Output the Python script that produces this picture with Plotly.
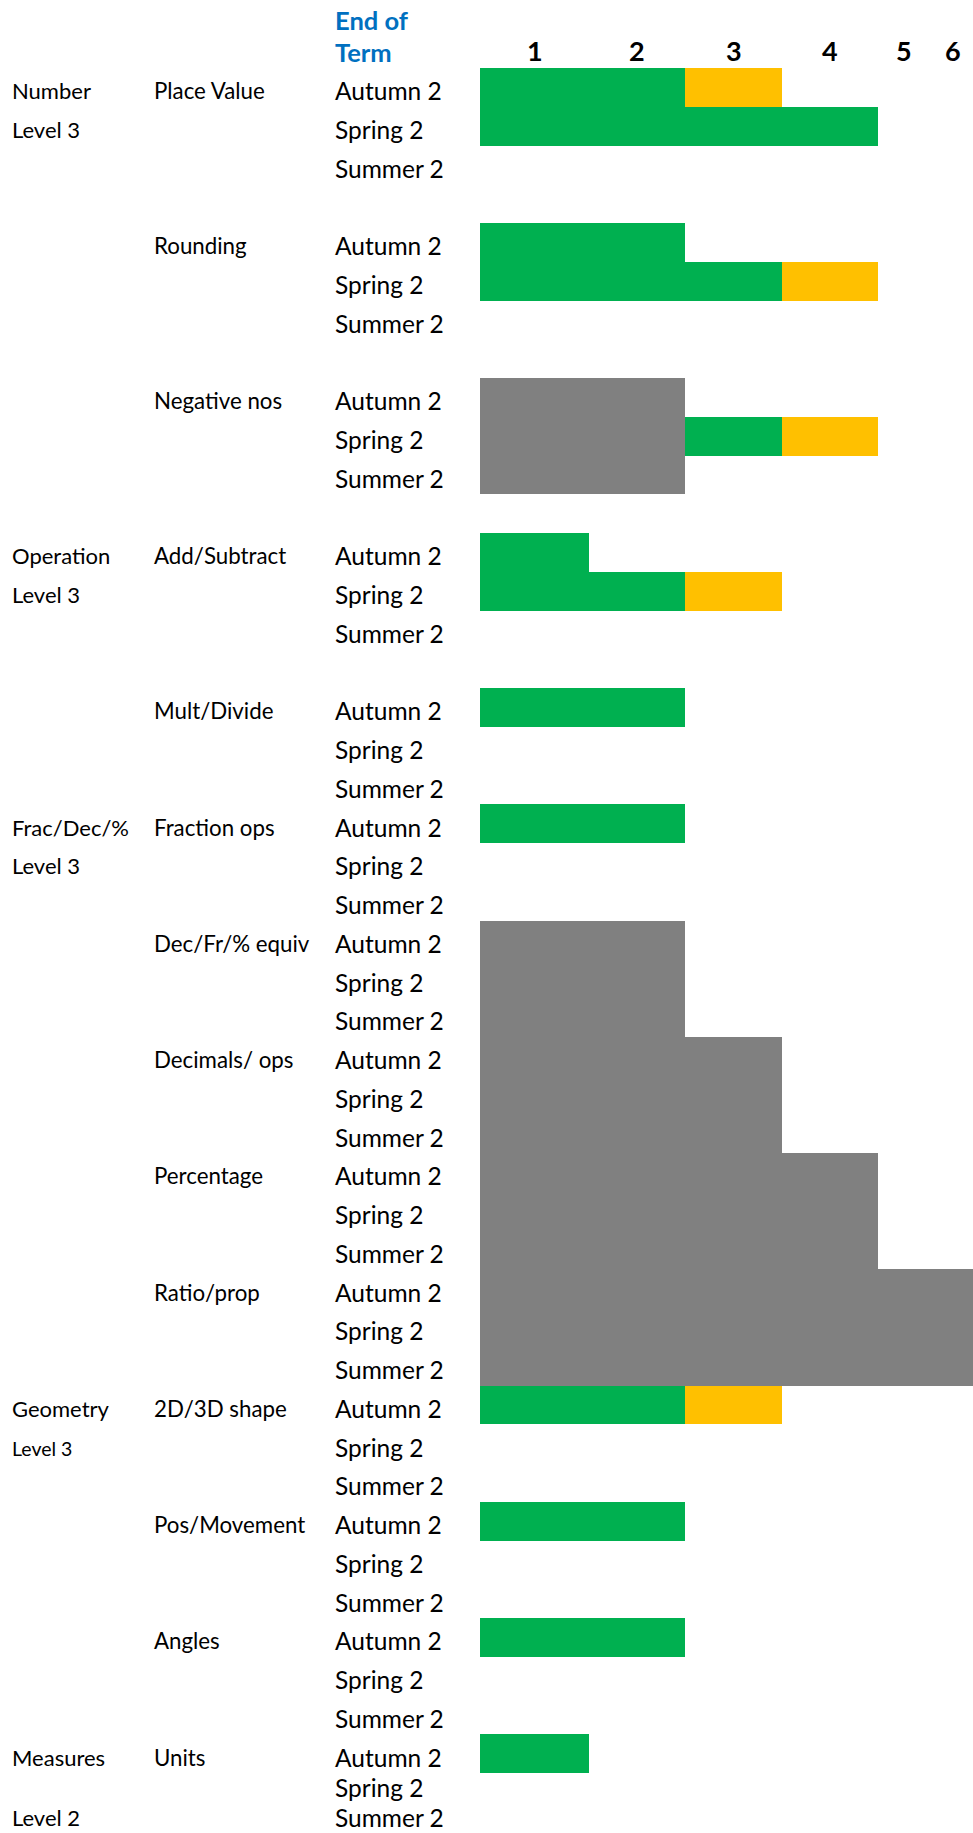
import plotly.graph_objects as go

# ---------------- data ----------------
subjects = ["Number", "Operation", "Frac/Dec/%", "Geometry", "Measures"]
subject_levels = ["Level 3", "Level 3", "Level 3", "Level 3", "Level 2"]
subject_first_topic = [0, 3, 5, 10, 13]
topics = ["Place Value", "Rounding", "Negative nos", "Add/Subtract", "Mult/Divide",
          "Fraction ops", "Dec/Fr/% equiv", "Decimals/ ops", "Percentage", "Ratio/prop",
          "2D/3D shape", "Pos/Movement", "Angles", "Units"]
terms = ["Autumn 2", "Spring 2", "Summer 2"]
level_labels = ["1", "2", "3", "4", "5", "6"]
# level reached (per topic, per term)
green_to = [[2, 4, 0], [2, 3, 0], [0, 3, 0], [1, 2, 0], [2, 0, 0], [2, 0, 0], [0, 0, 0],
            [0, 0, 0], [0, 0, 0], [0, 0, 0], [2, 0, 0], [2, 0, 0], [2, 0, 0], [1, 0, 0]]
amber_to = [[3, 0, 0], [0, 4, 0], [0, 4, 0], [0, 3, 0], [0, 0, 0], [0, 0, 0], [0, 0, 0],
            [0, 0, 0], [0, 0, 0], [0, 0, 0], [3, 0, 0], [0, 0, 0], [0, 0, 0], [0, 0, 0]]
grey_to = [0, 0, 2, 0, 0, 0, 2, 3, 4, 6, 0, 0, 0, 0]

# ---------------- layout constants ----------------
W, H = 973, 1833
COL_EDGES = [480, 589, 685, 782, 878, 930, 985]   # pixel edges of level columns
X_SUBJ, X_TOPIC, X_TERM = 12, 154, 335
FIRST_ROW_TOP = 68
ROW_H = 38.75
SHORT_ROW_H = 30
GAP_AFTER = [True, True, True, True] + [False] * 10
LEVEL_ROW_OFFSET = [1, 1, 1, 1, 2]
SUBJ_LEVEL_SIZE = [22, 22, 22, 19.5, 22]
GREEN, AMBER, GREY, BLUE = "#00B050", "#FFC000", "#808080", "#0070C0"
FONT = "Lato"

# compute row geometry
row_tops, row_hs = [], []
topic_first_row = []
y = FIRST_ROW_TOP
for ti in range(len(topics)):
    topic_first_row.append(len(row_tops))
    for k in range(len(terms)):
        h = ROW_H
        if ti == len(topics) - 1 and k > 0:
            h = SHORT_ROW_H
        row_tops.append(y)
        row_hs.append(h)
        y += h
    if GAP_AFTER[ti]:
        y += ROW_H
row_centers = [t + h / 2 for t, h in zip(row_tops, row_hs)]
row_bottoms = [t + h for t, h in zip(row_tops, row_hs)]

fig = go.Figure()

# grey blocks (whole topic)
gy, gx, gb, gw = [], [], [], []
for ti, g in enumerate(grey_to):
    if g > 0:
        r0 = topic_first_row[ti]
        top = row_tops[r0]
        bot = row_bottoms[r0 + 2]
        gy.append((top + bot) / 2)
        gw.append(bot - top)
        gb.append(COL_EDGES[0])
        gx.append(COL_EDGES[g] - COL_EDGES[0])
fig.add_trace(go.Bar(orientation="h", y=gy, x=gx, base=gb, width=gw,
                     marker=dict(color=GREY, line=dict(width=0)), hoverinfo="skip"))

# green and amber per term row
for series, color in [("green", GREEN), ("amber", AMBER)]:
    ys, xs, bs, ws = [], [], [], []
    for ti in range(len(topics)):
        for k in range(len(terms)):
            r = topic_first_row[ti] + k
            if series == "green":
                start, end = grey_to[ti], green_to[ti][k]
            else:
                start = max(green_to[ti][k], grey_to[ti])
                end = amber_to[ti][k]
            if end > start:
                ys.append(row_centers[r])
                ws.append(row_hs[r])
                bs.append(COL_EDGES[start])
                xs.append(COL_EDGES[end] - COL_EDGES[start])
    fig.add_trace(go.Bar(orientation="h", y=ys, x=xs, base=bs, width=ws,
                         marker=dict(color=color, line=dict(width=0)), hoverinfo="skip"))

annotations = []


def txt(x, yv, text, size, color="black", anchor="left", bold=False):
    annotations.append(dict(
        x=x, y=yv, xref="x", yref="y", text=("<b>%s</b>" % text) if bold else text,
        showarrow=False, xanchor=anchor, yanchor="middle", borderpad=0, borderwidth=0,
        font=dict(family=FONT, size=size, color=color)))


TEXT_UP = 16.0
# header
txt(X_TERM, 29.3 - 9.5, "End of", 25.5, BLUE, bold=True)
txt(X_TERM, 61.7 - 9.5, "Term", 25.5, BLUE, bold=True)
for i, lab in enumerate(level_labels):
    cx = (COL_EDGES[i] + COL_EDGES[i + 1]) / 2
    if i == len(level_labels) - 1:
        cx = (COL_EDGES[i] + 975) / 2
    txt(cx, 60.7 - 10.5, lab, 27, "black", anchor="center", bold=True)

# term labels
for ti in range(len(topics)):
    for k, term in enumerate(terms):
        r = topic_first_row[ti] + k
        txt(X_TERM, row_bottoms[r] - TEXT_UP, term, 24.5)
    r0 = topic_first_row[ti]
    txt(X_TOPIC, row_bottoms[r0] - TEXT_UP, topics[ti], 22.3)

for si, s in enumerate(subjects):
    r0 = topic_first_row[subject_first_topic[si]]
    txt(X_SUBJ, row_bottoms[r0] - TEXT_UP, s, 22)
    rl = r0 + LEVEL_ROW_OFFSET[si]
    txt(X_SUBJ, row_bottoms[rl] - TEXT_UP + (1 if SUBJ_LEVEL_SIZE[si] < 21 else 0),
        subject_levels[si], SUBJ_LEVEL_SIZE[si])

fig.update_layout(
    width=W, height=H, margin=dict(l=0, r=0, t=0, b=0),
    paper_bgcolor="white", plot_bgcolor="white",
    showlegend=False, barmode="overlay", bargap=0,
    xaxis=dict(range=[0, W], visible=False, fixedrange=True),
    yaxis=dict(range=[H, 0], visible=False, fixedrange=True),
    annotations=annotations,
)
fig.write_html("out.html",
               config={"displayModeBar": False, "staticPlot": False},
               post_script="document.body.style.margin='0';document.body.style.overflow='hidden';")
